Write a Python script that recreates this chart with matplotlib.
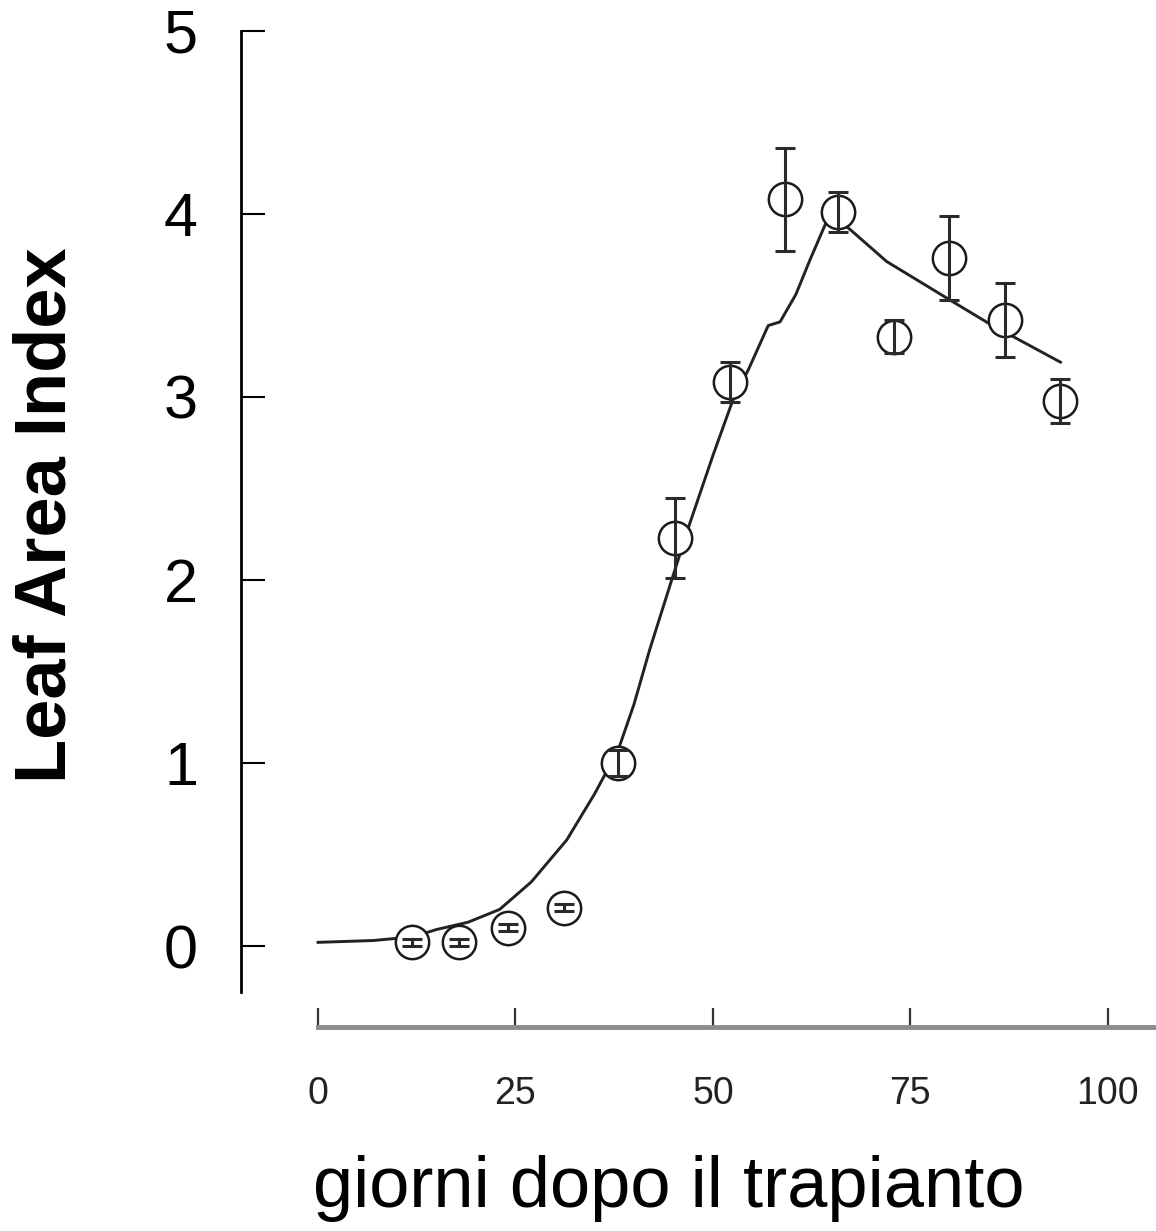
import matplotlib
matplotlib.use("Agg")
import matplotlib.pyplot as plt

# observed Leaf Area Index (mean +/- error)
days = [11.9, 17.9, 24.0, 31.1, 38.0, 45.2, 52.2, 59.1, 65.8, 72.9, 79.9, 87.0, 93.9]
lai = [0.02, 0.02, 0.10, 0.21, 1.00, 2.23, 3.08, 4.08, 4.01, 3.33, 3.76, 3.42, 2.98]
lai_err = [0.02, 0.02, 0.02, 0.02, 0.07, 0.22, 0.11, 0.28, 0.11, 0.09, 0.23, 0.20, 0.12]

# simulated curve
sim_days = [0, 7, 12, 15, 19, 23, 27, 31.5, 35, 38, 40, 42, 45, 47, 50, 52.5, 54.5,
            57, 58.5, 60.5, 62.3, 64.3, 65.5, 67.5, 72, 80, 85, 94]
sim_lai = [0.02, 0.03, 0.05, 0.09, 0.13, 0.20, 0.35, 0.58, 0.83, 1.07, 1.32, 1.62,
           2.03, 2.30, 2.68, 2.98, 3.15, 3.39, 3.41, 3.56, 3.75, 3.95, 3.98, 3.91,
           3.74, 3.53, 3.40, 3.19]

x_ticks = [0, 25, 50, 75, 100]
y_ticks = [0, 1, 2, 3, 4, 5]

plt.rcParams['font.family'] = ['Liberation Sans', 'DejaVu Sans']

fig = plt.figure(figsize=(11.56, 12.31), dpi=100)
ax = fig.add_axes([0.2085, 0.1942, 0.7915, 0.7807])

ax.plot(sim_days, sim_lai, color='#222222', linewidth=2.1, zorder=1)
ax.plot(days, lai, linestyle='none', marker='o', markersize=24,
        markerfacecolor='white', markeredgecolor='#1a1a1a', markeredgewidth=1.8, zorder=2)
ax.errorbar(days, lai, yerr=lai_err, fmt='none', ecolor='#2a2a2a',
            elinewidth=2.2, capsize=7, capthick=2.2, zorder=3)

ax.set_xlim(-9.75, 106.1)
ax.set_ylim(-0.251, 5)

for s in ['top', 'right']:
    ax.spines[s].set_visible(False)
ax.spines['left'].set_linewidth(2.0)
ax.spines['left'].set_color('black')
ax.spines['bottom'].set_position(('outward', 25.2))
ax.spines['bottom'].set_bounds(0, 106.1)
ax.spines['bottom'].set_color('#8c8c8c')
ax.spines['bottom'].set_linewidth(3.5)

ax.set_yticks(y_ticks)
ax.set_yticklabels([str(v) for v in y_ticks])
ax.tick_params(axis='y', direction='in', length=17, width=1.5, pad=31,
               labelsize=44, colors='black')
ax.set_xticks(x_ticks)
ax.set_xticklabels([str(v) for v in x_ticks])
ax.tick_params(axis='x', direction='in', length=14, width=1.6, pad=35,
               labelsize=27, color='#333333', labelcolor='#222222')

fig.text(47 / 1156, 1 - 515 / 1231, 'Leaf Area Index', rotation=90, ha='center',
         va='center', fontsize=52, fontweight='bold', color='black')
fig.text(669 / 1156, 1 - 1188 / 1231, 'giorni dopo il trapianto', ha='center',
         va='center', fontsize=52, color='black')

fig.savefig('out.png', dpi=100)
